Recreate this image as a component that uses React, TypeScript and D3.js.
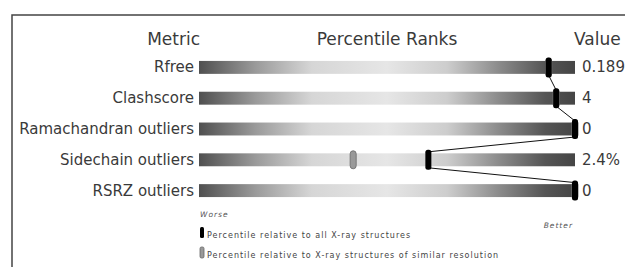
import React from "react";
import * as d3 from "d3";

const metrics = ["Rfree", "Clashscore", "Ramachandran outliers", "Sidechain outliers", "RSRZ outliers"];
const valueLabels = ["0.189", "4", "0", "2.4%", "0"];
const pctAll = [93, 95, 100, 61, 100];
const pctSimilar = [93, 95, 100, 41, 100];
const headers = ["Metric", "Percentile Ranks", "Value"];
const legendLabels = [
  "Percentile relative to all X-ray structures",
  "Percentile relative to X-ray structures of similar resolution",
];
const endLabels = ["Worse", "Better"];

const W = 625;
const H = 267;
const FONT = "'DejaVu Sans', Verdana, sans-serif";

export default function App() {
  const x = d3.scaleLinear().domain([0, 100]).range([199, 575]);
  const y = d3.scaleBand<string>().domain(metrics).range([52, 206]).paddingInner(0.58).paddingOuter(0.29);
  const bh = y.bandwidth();
  const cy = (m: string) => (y(m) as number) + bh / 2;

  const segs: [number, number][][] = [];
  for (let i = 0; i < metrics.length - 1; i++) {
    segs.push([
      [x(pctAll[i]), cy(metrics[i]) + 8],
      [x(pctAll[i + 1]), cy(metrics[i + 1]) - 8],
    ]);
  }
  const line = d3.line();

  return (
    <svg width={W} height={H} style={{ position: "absolute", left: 0, top: 0, background: "#fff" }}>
      <defs>
        <linearGradient id="g" x1="0" x2="1" y1="0" y2="0">
          <stop offset="0" stopColor="#505050" />
          <stop offset="0.15" stopColor="#9a9a9a" />
          <stop offset="0.3" stopColor="#d6d6d6" />
          <stop offset="0.5" stopColor="#e6e6e6" />
          <stop offset="0.66" stopColor="#cdcdcd" />
          <stop offset="0.8" stopColor="#8a8a8a" />
          <stop offset="0.92" stopColor="#555" />
          <stop offset="1" stopColor="#454545" />
        </linearGradient>
      </defs>
      <rect x={12} y={15} width={700} height={400} fill="none" stroke="#444" strokeWidth={1.5} />
      <g fontFamily={FONT} fill="#3a3a3a">
        <text x={200} y={45} fontSize={17} textAnchor="end">{headers[0]}</text>
        <text x={387} y={45} fontSize={17} textAnchor="middle">{headers[1]}</text>
        <text x={574} y={45} fontSize={17}>{headers[2]}</text>
      </g>
      {metrics.map((m, i) => (
        <g key={m}>
          <text x={194} y={cy(m) + 5} fontFamily={FONT} fontSize={15} fill="#3a3a3a" textAnchor="end">{m}</text>
          <rect x={x(0)} y={y(m)} width={x(100) - x(0)} height={bh} fill="url(#g)" />
          <text x={582} y={cy(m) + 5} fontFamily={FONT} fontSize={15} fill="#3a3a3a">{valueLabels[i]}</text>
        </g>
      ))}
      {segs.map((s, i) => (
        <path key={i} d={line(s) as string} stroke="#111" strokeWidth={1} fill="none" />
      ))}
      {metrics.map((m, i) => (
        <rect key={"s" + m} x={x(pctSimilar[i]) - 3} y={cy(m) - 9} width={6} height={18} rx={3}
          fill="#999" stroke="#777" strokeWidth={1} />
      ))}
      {metrics.map((m, i) => (
        <rect key={"a" + m} x={x(pctAll[i]) - 3} y={cy(m) - 10} width={6} height={20} rx={2.5} fill="#000" />
      ))}
      <g fontFamily={FONT} fontStyle="italic" fontSize={7.5} fill="#555" letterSpacing={1}>
        <text x={200} y={217}>{endLabels[0]}</text>
        <text x={573} y={228} textAnchor="end">{endLabels[1]}</text>
      </g>
      <rect x={200} y={227} width={4} height={11} rx={1.5} fill="#000" />
      <rect x={200} y={247} width={4} height={11} rx={1.5} fill="#999" stroke="#666" strokeWidth={0.8} />
      <g fontFamily={FONT} fontSize={8} fill="#444" letterSpacing={1}>
        <text x={207} y={238}>{legendLabels[0]}</text>
        <text x={207} y={258}>{legendLabels[1]}</text>
      </g>
    </svg>
  );
}
